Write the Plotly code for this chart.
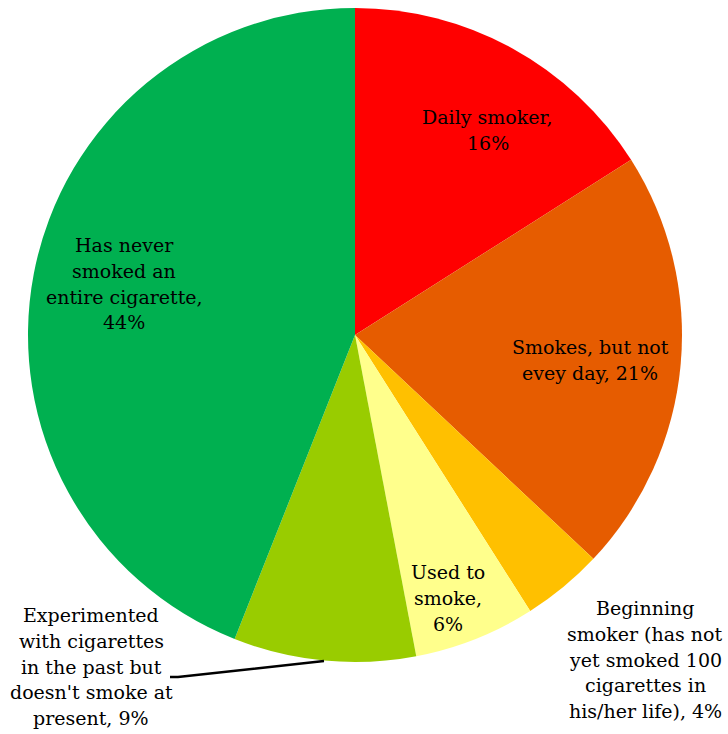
import plotly.graph_objects as go

categories = [
    "Daily smoker",
    "Smokes, but not evey day",
    "Beginning smoker (has not yet smoked 100 cigarettes in his/her life)",
    "Used to smoke",
    "Experimented with cigarettes in the past but doesn't smoke at present",
    "Has never smoked an entire cigarette",
]
values = [16, 21, 4, 6, 9, 44]
colors = ["#FF0000", "#E65C00", "#FFC000", "#FFFF8C", "#99CC00", "#00B050"]

# label lines (text) and their pixel anchor centers (layout)
label_lines = [
    (["Daily smoker,", "16%"], 488, 117),
    (["Smokes, but not", "evey day, 21%"], 590, 347),
    (["Beginning", "smoker (has not", "yet smoked 100", "cigarettes in", "his/her life), 4%"], 645, 608),
    (["Used to", "smoke,", "6%"], 448, 572),
    (["Experimented", "with cigarettes", "in the past but", "doesn't smoke at", "present, 9%"], 91, 615),
    (["Has never", "smoked an", "entire cigarette,", "44%"], 124, 245),
]

W, H = 728, 734
LINE_H = 25.8
FONT = "DejaVu Serif"
FS = 19

fig = go.Figure(go.Pie(
    labels=categories,
    values=values,
    marker=dict(colors=colors, line=dict(width=0)),
    sort=False,
    direction="clockwise",
    rotation=0,
    textinfo="none",
    hoverinfo="label+percent",
    showlegend=False,
    domain=dict(x=[28 / W, 682 / W], y=[1 - 662 / H, 1 - 8 / H]),
))

annotations = []
for lines, cx, cy in label_lines:
    for i, ln in enumerate(lines):
        annotations.append(dict(
            text=ln, x=cx / W, y=1 - (cy + i * LINE_H) / H,
            xref="paper", yref="paper", xanchor="center", yanchor="middle",
            showarrow=False, font=dict(family=FONT, size=FS, color="#000000"),
        ))

# leader line for the "Experimented" label
pts = [(170, 677), (178, 677), (324, 661)]
path = "M " + " L ".join(f"{x / W} {1 - y / H}" for x, y in pts)
shapes = [dict(type="path", path=path, xref="paper", yref="paper",
               line=dict(color="#000000", width=2.5))]

fig.update_layout(
    width=W, height=H,
    margin=dict(l=0, r=0, t=0, b=0),
    paper_bgcolor="#FFFFFF",
    plot_bgcolor="#FFFFFF",
    annotations=annotations,
    shapes=shapes,
)

fig.write_html(
    "out.html",
    config={"displayModeBar": False},
    post_script="document.body.style.margin='0';document.body.style.overflow='hidden';",
)
